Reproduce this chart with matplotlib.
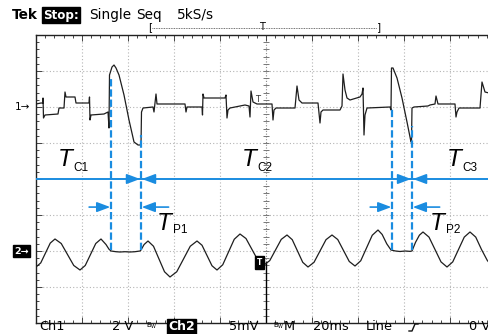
import matplotlib
matplotlib.use('Agg')
import matplotlib.pyplot as plt

# ---------------- data (time in ms, 20 ms/div) ----------------
ch1_t = [0, 2.174, 3.043, 3.05, 3.261, 3.913, 9.565, 10.0, 12.174, 12.609, 13.043, 16.957,
         17.391, 23.043, 23.261, 23.478, 23.913, 29.565, 31.304, 31.739, 31.957, 33.043,
         33.913, 34.783, 36.087, 38.261, 40.435, 42.609, 44.348, 45.652, 45.870, 46.522,
         50.870, 51.304, 52.174, 52.609, 64.783, 65.217, 65.652, 72.174, 72.391, 72.609,
         73.043, 82.174, 82.609, 83.043, 83.478, 84.348, 90.870, 92.609, 93.043, 93.478,
         94.348, 96.087, 102.609, 103.043, 103.478, 104.348, 112.609, 113.478, 114.348,
         115.652, 122.609, 123.478, 123.913, 124.783, 132.174, 133.043, 133.478, 134.348,
         135.217, 136.522, 140.870, 141.739, 142.174, 142.609, 143.043, 143.913, 153.913,
         154.348, 154.565, 155.217, 156.957, 159.130, 161.304, 163.043, 163.261, 163.478,
         164.348, 170.435, 171.304, 173.478, 173.913, 174.783, 182.174, 182.609, 183.043,
         183.913, 193.043, 193.913, 195.217, 196.957]
ch1_v = [0.167, 0.222, 0.222, 0.5, -0.611, -0.444, -0.389, -0.056, -0.056, 0.833, 0.556, 0.556,
         0.222, 0.222, 0.556, -0.722, -0.444, -0.389, -0.278, -1.167, 1.778, 2.222,
         2.333, 2.167, 1.778, 0.667, -0.722, -1.944, -2.111, -2.111, -0.278, -0.056,
         0.0, -0.278, 0.722, 0.167, 0.167, -0.278, 0.0, 0.0, -0.444, 0.722,
         0.5, 0.5, 0.667, -0.611, -0.167, -0.056, 0.111, 0.056, -0.556, 0.889,
         0.278, 0.167, 0.167, -0.722, -0.167, -0.056, -0.056, 1.167, 0.389,
         0.222, 0.222, -0.889, -0.278, -0.167, -0.167, 0.056, 1.833, 0.944,
         0.5, 0.389, 0.556, 0.722, 1.056, -1.556, -0.444, -0.056, 0.0,
         -0.167, 2.167, 2.167, 1.611, 0.5, -0.833, -1.944, -1.944, -0.056,
         0.0, 0.056, 0.111, 0.167, 0.611, 0.167, 0.167, -0.556, -0.278,
         -0.056, -0.056, 1.389, 0.833, 0.778]

ch2_t = [0, 2.065, 4.130, 6.196, 8.261, 10.978, 13.696, 16.413, 19.130, 21.413, 23.696, 25.978,
         28.261, 30.435, 31.739, 32.609, 34.8, 36.522, 38.7, 40.870, 43.0, 45.217, 45.652,
         47.0, 48.696, 51.087, 53.478, 55.870, 58.261, 61.196, 64.130, 67.065, 70.0,
         72.174, 74.348, 76.522, 78.696, 81.196, 83.696, 86.196, 88.696, 91.304, 93.913,
         96.522, 99.130, 101.630, 104.130, 106.630, 109.130, 111.413, 113.696, 115.978,
         118.261, 120.870, 123.478, 126.087, 128.696, 131.196, 133.696, 136.196, 138.696,
         141.196, 143.696, 146.196, 148.696, 150.5, 152.5, 154.348, 156.3, 158.261, 160.5,
         162.6, 163.478, 165.0, 166.7, 168.261, 170.870, 173.478, 176.087, 178.696,
         181.196, 183.696, 186.196, 188.696, 191.196, 193.696, 196.196, 196.957]
ch2_mv = [-2.222, -1.654, -0.278, 1.099, 1.667, 1.038, -0.486, -2.010, -2.639, -2.011, -0.486, 1.038,
          1.667, 0.9, 0.25, 0.0, -0.1, -0.139, -0.1, -0.139, -0.1, 0.0, 0.139,
          0.9, 1.389, 0.659, -1.111, -2.881, -3.611, -2.881, -1.111, 0.659, 1.389,
          0.801, -0.625, -2.051, -2.639, -1.909, -0.139, 1.631, 2.361, 1.732, 0.209,
          -1.315, -1.944, -1.336, 0.139, 1.614, 2.222, 1.573, 0.0, -1.573,
          -2.222, -1.573, 0.0, 1.573, 2.222, 1.593, 0.070, -1.454, -2.083,
          -1.353, 0.417, 2.187, 2.917, 2.3, 1.0, 0.139, 0.0, -0.069, 0.0,
          -0.05, 0.0, 1.2, 2.2, 2.639, 1.929, 0.209, -1.512, -2.222,
          -1.512, 0.209, 1.929, 2.639, 1.929, 0.209, -1.3, -1.6]

CH1_VDIV, CH2_VDIV = 2.0, 5.0        # V/div, mV/div
CH1_POS, CH2_POS = 2.0, -2.0         # marker positions (div)
TDIV = 20.0                          # ms/div

# event instants (ms) marked with dashed lines
event_t = [32.6, 45.65, 154.8, 163.5]
event_top = [2.81, 1.22, 1.97, 1.47]   # div
event_bot = -1.97

c_labels = [("C1", 9.6), ("C2", 89.6), ("C3", 178.7)]
p_labels = [("P1", 52.6), ("P2", 171.3)]

BLUE = '#1a8ce0'
W, H = 489, 334

fig = plt.figure(figsize=(W / 100, H / 100), dpi=100)
fig.patch.set_facecolor('white')
ax = fig.add_axes([36 / W, 11 / H, 453 / W, 288 / H])
xmax = 453 / 46 * TDIV
ax.set_xlim(0, xmax)
ax.set_ylim(-4, 4)

# ---------- graticule ----------
grid_kw = dict(color='#b4b4b4', lw=0.8, ls=(0, (1, 2.0)), zorder=1)
for k in range(1, 10):
    if k != 5:
        ax.axvline(k * TDIV, **grid_kw)
for k in range(-3, 4):
    if k != 0:
        ax.axhline(k, **grid_kw)
# centre vertical line with ticks
ax.plot([5 * TDIV, 5 * TDIV], [-2.3, 4], color='#888888', lw=0.8, ls=(0, (1, 1.5)), zorder=1)
ax.plot([5 * TDIV, 5 * TDIV], [-4, -2.3], color='black', lw=1.0, zorder=2)
yt = [i * 0.2 for i in range(-20, 21)]
ax.plot([5 * TDIV] * len(yt), yt, ls='none', marker='_', ms=4, mew=0.7, color='#777777', zorder=1)

ax.spines['right'].set_visible(False)
for s in ['left', 'top', 'bottom']:
    ax.spines[s].set_linewidth(1.0)
    ax.spines[s].set_color('#222222')
ax.set_xticks([k * TDIV for k in range(0, 10)])
ax.set_xticks([k * TDIV / 5 for k in range(0, 50)], minor=True)
ax.set_yticks(range(-4, 5))
ax.set_yticks([i * 0.2 for i in range(-20, 21)], minor=True)
ax.tick_params(which='both', direction='in', top=True, bottom=True, left=True, right=False,
               labelbottom=False, labelleft=False, color='#444444', width=0.7)
ax.tick_params(which='major', length=4)
ax.tick_params(which='minor', length=2.5)

# ---------- traces ----------
y1 = [CH1_POS + v / CH1_VDIV for v in ch1_v]
y2 = [CH2_POS + m / CH2_VDIV for m in ch2_mv]
ax.plot(ch1_t, y1, color='#1e1e1e', lw=0.9, zorder=4)
ax.plot(ch2_t, y2, color='#1e1e1e', lw=0.9, zorder=4)

# ---------- blue annotations ----------
ax.axhline(0, color=BLUE, lw=1.4, zorder=5)
for t, top in zip(event_t, event_top):
    ax.plot([t, t], [event_bot, top], color=BLUE, lw=1.6, ls=(0, (3.3, 1.3)), zorder=6)

ap = dict(arrowstyle='-|>,head_length=0.8,head_width=0.3', color=BLUE, lw=1.2,
          shrinkA=0, shrinkB=0, mutation_scale=10)
for i in (1, 3):
    t = event_t[i]
    ax.annotate('', xy=(t - 0.4, 0), xytext=(t - 5.0, 0), arrowprops=ap, zorder=7)
    ax.annotate('', xy=(t + 0.4, 0), xytext=(t + 5.0, 0), arrowprops=ap, zorder=7)
py_arrow = -0.78
for a, b in ((0, 1), (2, 3)):
    ta, tb = event_t[a], event_t[b]
    ax.annotate('', xy=(ta - 0.3, py_arrow), xytext=(ta - 9.5, py_arrow), arrowprops=ap, zorder=7)
    ax.annotate('', xy=(tb + 0.3, py_arrow), xytext=(tb + 12.0, py_arrow), arrowprops=ap, zorder=7)

for sub, t in c_labels:
    ax.text(t, 0.36, 'T', fontsize=17.5, style='italic', family='Liberation Sans',
            ha='left', va='baseline', zorder=8)
    ax.text(t + 6.8, 0.23, sub, fontsize=8.5, family='Liberation Sans',
            ha='left', va='baseline', zorder=8)
for sub, t in p_labels:
    ax.text(t, -1.42, 'T', fontsize=17.5, style='italic', family='Liberation Sans',
            ha='left', va='baseline', zorder=8)
    ax.text(t + 6.8, -1.50, sub, fontsize=8.5, family='Liberation Sans',
            ha='left', va='baseline', zorder=8)

# trigger marker on ch2 and trigger level mark on ch1
ax.text(97.0, -2.31, 'T', fontsize=5.5, color='white', fontweight='bold', ha='center', va='center',
        bbox=dict(boxstyle='square,pad=0.25', fc='black', ec='black'), zorder=9)
ax.text(96.5, 2.22, 'T', fontsize=6, color='#333333', ha='center', va='center', zorder=3)

# ---------- scope text ----------
def ftext(px, py, s, **kw):
    d = dict(fontsize=9, family='DejaVu Sans', va='center', ha='left')
    d.update(kw)
    fig.text(px / W, 1 - py / H, s, **d)

inv = dict(boxstyle='square,pad=0.12', fc='black', ec='black')
ftext(12, 15, 'Tek', fontweight='bold', fontsize=9.8)
ftext(43, 15, 'Stop:', color='white', fontweight='bold', fontsize=8.6, bbox=inv)
ftext(89, 15, 'Single', fontsize=9.8)
ftext(136, 15, 'Seq', fontsize=9.8)
ftext(177, 15, '5kS/s', fontsize=9.8)
ftext(148, 27, '[', fontsize=7.5)
ftext(262, 27, 'T', fontsize=7, ha='center')
ftext(381, 27, ']', fontsize=7.5, ha='right')
fig.add_artist(plt.Line2D([152 / W, 377 / W], [1 - 27.5 / H, 1 - 27.5 / H], color='#444444',
                          lw=0.6, ls=(0, (1, 1))))

ftext(15, 107, '1\u2192', fontsize=7.5)
ftext(14, 251, '2\u2192', fontsize=6.8, color='white', fontweight='bold', bbox=inv)

ftext(39, 327, 'Ch1', fontsize=9.3)
ftext(112, 327, '2 V', fontsize=9.3)
ftext(146, 326, 'B$_{\\rm W}$', fontsize=5)
ftext(168, 327, 'Ch2', fontsize=9.0, color='white', fontweight='bold', bbox=inv)
ftext(229, 327, '5mV', fontsize=9.3)
ftext(273, 326, 'B$_{\\rm W}$', fontsize=5)
ftext(284, 327, 'M', fontsize=9.3)
ftext(313, 327, '20ms', fontsize=9.3)
ftext(366, 327, 'Line', fontsize=9.3)
ftext(469, 327, '0 V', fontsize=9.3)
# rising-edge trigger symbol
sym_x = [409, 412, 415, 418]
sym_y = [331, 331, 324, 324]
fig.add_artist(plt.Line2D([x / W for x in sym_x], [1 - y / H for y in sym_y],
                          color='#111111', lw=1.0))

fig.savefig('out.png', dpi=100, facecolor='white')
